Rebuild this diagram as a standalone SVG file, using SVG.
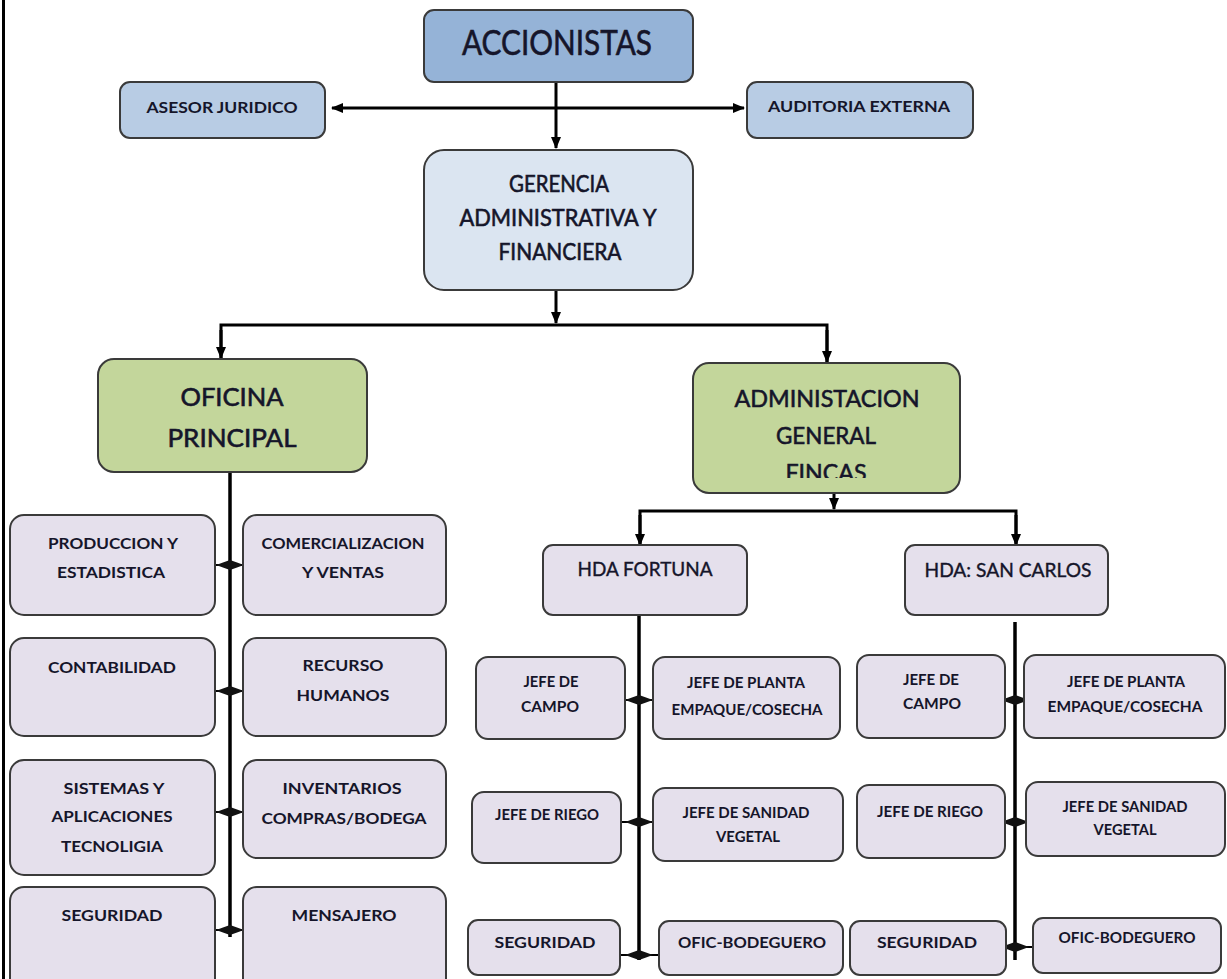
<svg xmlns="http://www.w3.org/2000/svg" width="1227" height="979" viewBox="0 0 1227 979">
<style>
.box{stroke:#3a3a3a;stroke-width:2}
.c1{fill:#95b3d7}.c2{fill:#b8cce4}.c3{fill:#dbe5f1}.c4{fill:#c3d69b}.c5{fill:#e5e0ec}
text{font-family:Lato,"Liberation Sans",sans-serif;fill:#15152a;text-anchor:middle}
.big,.mid,.lg,.ad,.hd{stroke:#15152a;stroke-width:0.6}
.big{font-size:34px}
.mid{font-size:23px}
.lg{font-size:25px}
.ad{font-size:24px}
.hd{font-size:20px;stroke-width:0.4}
.sm{font-size:16px;font-weight:bold}
.xs{font-size:15px;font-weight:bold}
.ln{stroke:#000;stroke-width:3;fill:none}
.tr{stroke:#000;stroke-width:3.5;fill:none}
.jn{stroke:#000;stroke-width:2;fill:none}
.dm{fill:#111}
</style>
<defs>
<marker id="ah" markerUnits="userSpaceOnUse" markerWidth="12" markerHeight="12" viewBox="0 0 12 12" refX="11" refY="6" orient="auto-start-reverse">
<path d="M0,1 L12,6 L0,11 Z" fill="#000"/>
</marker>
<clipPath id="finc"><rect x="693" y="363" width="267" height="115"/></clipPath>
</defs>
<rect width="1227" height="979" fill="#fff"/>
<line x1="3.5" y1="0" x2="3.5" y2="979" stroke="#000" stroke-width="3"/>

<g id="connectors">
<line class="ln" x1="332" y1="108" x2="744" y2="108" marker-start="url(#ah)" marker-end="url(#ah)"/>
<line class="ln" x1="556" y1="82" x2="556" y2="148" marker-end="url(#ah)"/>
<line class="ln" x1="556" y1="290" x2="556" y2="323" marker-end="url(#ah)"/>
<polyline class="ln" points="221,358 221,325 827,325 827,362"/>
<line class="ln" x1="221" y1="330" x2="221" y2="358" marker-end="url(#ah)"/>
<line class="ln" x1="827" y1="330" x2="827" y2="362" marker-end="url(#ah)"/>
<line class="ln" x1="834" y1="493" x2="834" y2="509" marker-end="url(#ah)"/>
<polyline class="ln" points="640,544 640,511 1016,511 1016,544"/>
<line class="ln" x1="640" y1="515" x2="640" y2="545" marker-end="url(#ah)"/>
<line class="ln" x1="1016" y1="515" x2="1016" y2="545" marker-end="url(#ah)"/>
<line class="tr" x1="230" y1="472" x2="230" y2="937"/>
<line class="tr" x1="639" y1="615" x2="639" y2="960"/>
<line class="tr" x1="1015" y1="622" x2="1015" y2="960"/>
<g id="junctions">
<line class="jn" x1="215" y1="565" x2="243" y2="565"/><polygon class="dm" points="216,565 230,560 244,565 230,570"/>
<line class="jn" x1="215" y1="691" x2="243" y2="691"/><polygon class="dm" points="216,691 230,686 244,691 230,696"/>
<line class="jn" x1="215" y1="812" x2="243" y2="812"/><polygon class="dm" points="216,812 230,807 244,812 230,817"/>
<line class="jn" x1="215" y1="930" x2="243" y2="930"/><polygon class="dm" points="216,930 230,925 244,930 230,935"/>
<line class="jn" x1="625" y1="700" x2="653" y2="700"/><polygon class="dm" points="625,700 639,695 653,700 639,705"/>
<line class="jn" x1="621" y1="822" x2="653" y2="822"/><polygon class="dm" points="625,822 639,817 653,822 639,827"/>
<line class="jn" x1="620" y1="955" x2="659" y2="955"/><polygon class="dm" points="625,955 639,950 653,955 639,960"/>
<line class="jn" x1="1005" y1="700" x2="1024" y2="700"/><polygon class="dm" points="1001,700 1015,695 1029,700 1015,705"/>
<line class="jn" x1="1005" y1="822" x2="1026" y2="822"/><polygon class="dm" points="1001,822 1015,817 1029,822 1015,827"/>
<line class="jn" x1="1006" y1="947" x2="1033" y2="947"/><polygon class="dm" points="1001,947 1015,942 1029,947 1015,952"/>
</g>
</g>

<g id="accionistas"><rect class="box c1" x="424" y="10" width="269" height="72" rx="10"/><text class="big" x="557" y="55" textLength="190" lengthAdjust="spacingAndGlyphs">ACCIONISTAS</text></g>
<g id="asesor"><rect class="box c2" x="120" y="82" width="205" height="56" rx="10"/><text class="sm" x="222" y="113" textLength="151" lengthAdjust="spacingAndGlyphs">ASESOR JURIDICO</text></g>
<g id="auditoria"><rect class="box c2" x="747" y="82" width="226" height="56" rx="10"/><text class="sm" x="859" y="112" textLength="182" lengthAdjust="spacingAndGlyphs">AUDITORIA EXTERNA</text></g>
<g id="gerencia"><rect class="box c3" x="424" y="150" width="269" height="140" rx="20"/>
<text class="mid" x="559" y="192" textLength="100" lengthAdjust="spacingAndGlyphs">GERENCIA</text>
<text class="mid" x="558" y="226" textLength="197" lengthAdjust="spacingAndGlyphs">ADMINISTRATIVA Y</text>
<text class="mid" x="560" y="260" textLength="123" lengthAdjust="spacingAndGlyphs">FINANCIERA</text></g>
<g id="oficina"><rect class="box c4" x="98" y="359" width="269" height="113" rx="16"/>
<text class="lg" x="232" y="406" textLength="103" lengthAdjust="spacingAndGlyphs">OFICINA</text>
<text class="lg" x="232" y="447" textLength="129" lengthAdjust="spacingAndGlyphs">PRINCIPAL</text></g>
<g id="admin"><rect class="box c4" x="693" y="363" width="267" height="130" rx="16"/>
<text class="ad" x="827" y="407" textLength="185" lengthAdjust="spacingAndGlyphs">ADMINISTACION</text>
<text class="ad" x="826" y="444" textLength="100" lengthAdjust="spacingAndGlyphs">GENERAL</text>
<text class="ad" x="826" y="481" textLength="81" lengthAdjust="spacingAndGlyphs" clip-path="url(#finc)">FINCAS</text></g>

<g id="produccion"><rect class="box c5" x="10" y="515" width="205" height="100" rx="14"/>
<text class="sm" x="113" y="549" textLength="130" lengthAdjust="spacingAndGlyphs">PRODUCCION Y</text>
<text class="sm" x="111" y="578" textLength="108" lengthAdjust="spacingAndGlyphs">ESTADISTICA</text></g>
<g id="comercializacion"><rect class="box c5" x="243" y="515" width="203" height="100" rx="14"/>
<text class="sm" x="343" y="549" textLength="163" lengthAdjust="spacingAndGlyphs">COMERCIALIZACION</text>
<text class="sm" x="343" y="578" textLength="82" lengthAdjust="spacingAndGlyphs">Y VENTAS</text></g>
<g id="contabilidad"><rect class="box c5" x="10" y="638" width="205" height="98" rx="14"/>
<text class="sm" x="112" y="673" textLength="128" lengthAdjust="spacingAndGlyphs">CONTABILIDAD</text></g>
<g id="recurso"><rect class="box c5" x="243" y="638" width="203" height="98" rx="14"/>
<text class="sm" x="343" y="671" textLength="81" lengthAdjust="spacingAndGlyphs">RECURSO</text>
<text class="sm" x="343" y="701" textLength="93" lengthAdjust="spacingAndGlyphs">HUMANOS</text></g>
<g id="sistemas"><rect class="box c5" x="10" y="760" width="205" height="115" rx="14"/>
<text class="sm" x="114" y="794" textLength="101" lengthAdjust="spacingAndGlyphs">SISTEMAS Y</text>
<text class="sm" x="112" y="822" textLength="121" lengthAdjust="spacingAndGlyphs">APLICACIONES</text>
<text class="sm" x="112" y="852" textLength="102" lengthAdjust="spacingAndGlyphs">TECNOLIGIA</text></g>
<g id="inventarios"><rect class="box c5" x="243" y="760" width="203" height="98" rx="14"/>
<text class="sm" x="342" y="794" textLength="119" lengthAdjust="spacingAndGlyphs">INVENTARIOS</text>
<text class="sm" x="344" y="824" textLength="165" lengthAdjust="spacingAndGlyphs">COMPRAS/BODEGA</text></g>
<g id="seguridad-op"><rect class="box c5" x="10" y="887" width="205" height="110" rx="14"/>
<text class="sm" x="112" y="921" textLength="101" lengthAdjust="spacingAndGlyphs">SEGURIDAD</text></g>
<g id="mensajero"><rect class="box c5" x="243" y="887" width="203" height="110" rx="14"/>
<text class="sm" x="344" y="921" textLength="105" lengthAdjust="spacingAndGlyphs">MENSAJERO</text></g>

<g id="hda-fortuna"><rect class="box c5" x="543" y="545" width="204" height="70" rx="10"/>
<text class="hd" x="645" y="576" textLength="135" lengthAdjust="spacingAndGlyphs">HDA FORTUNA</text></g>
<g id="f-campo"><rect class="box c5" x="476" y="657" width="149" height="82" rx="12"/>
<text class="xs" x="551" y="687" textLength="55" lengthAdjust="spacingAndGlyphs">JEFE DE</text>
<text class="xs" x="550" y="712" textLength="58" lengthAdjust="spacingAndGlyphs">CAMPO</text></g>
<g id="f-planta"><rect class="box c5" x="653" y="657" width="187" height="82" rx="12"/>
<text class="xs" x="746" y="688" textLength="118" lengthAdjust="spacingAndGlyphs">JEFE DE PLANTA</text>
<text class="xs" x="747" y="715" textLength="151" lengthAdjust="spacingAndGlyphs">EMPAQUE/COSECHA</text></g>
<g id="f-riego"><rect class="box c5" x="472" y="792" width="149" height="71" rx="12"/>
<text class="xs" x="547" y="820" textLength="104" lengthAdjust="spacingAndGlyphs">JEFE DE RIEGO</text></g>
<g id="f-sanidad"><rect class="box c5" x="653" y="788" width="190" height="73" rx="12"/>
<text class="xs" x="746" y="818" textLength="127" lengthAdjust="spacingAndGlyphs">JEFE DE SANIDAD</text>
<text class="xs" x="748" y="842" textLength="64" lengthAdjust="spacingAndGlyphs">VEGETAL</text></g>
<g id="f-seguridad"><rect class="box c5" x="468" y="920" width="152" height="55" rx="10"/>
<text class="xs" x="545" y="948" textLength="101" lengthAdjust="spacingAndGlyphs">SEGURIDAD</text></g>
<g id="f-bodeguero"><rect class="box c5" x="659" y="921" width="184" height="54" rx="10"/>
<text class="xs" x="752" y="948" textLength="148" lengthAdjust="spacingAndGlyphs">OFIC-BODEGUERO</text></g>

<g id="hda-sancarlos"><rect class="box c5" x="905" y="545" width="203" height="70" rx="10"/>
<text class="hd" x="1008" y="577" textLength="167" lengthAdjust="spacingAndGlyphs">HDA: SAN CARLOS</text></g>
<g id="s-campo"><rect class="box c5" x="857" y="655" width="148" height="83" rx="12"/>
<text class="xs" x="931" y="685" textLength="56" lengthAdjust="spacingAndGlyphs">JEFE DE</text>
<text class="xs" x="932" y="709" textLength="58" lengthAdjust="spacingAndGlyphs">CAMPO</text></g>
<g id="s-planta"><rect class="box c5" x="1024" y="655" width="201" height="83" rx="12"/>
<text class="xs" x="1126" y="687" textLength="118" lengthAdjust="spacingAndGlyphs">JEFE DE PLANTA</text>
<text class="xs" x="1125" y="712" textLength="155" lengthAdjust="spacingAndGlyphs">EMPAQUE/COSECHA</text></g>
<g id="s-riego"><rect class="box c5" x="857" y="785" width="148" height="73" rx="12"/>
<text class="xs" x="930" y="817" textLength="106" lengthAdjust="spacingAndGlyphs">JEFE DE RIEGO</text></g>
<g id="s-sanidad"><rect class="box c5" x="1026" y="782" width="199" height="74" rx="12"/>
<text class="xs" x="1125" y="812" textLength="125" lengthAdjust="spacingAndGlyphs">JEFE DE SANIDAD</text>
<text class="xs" x="1125" y="835" textLength="63" lengthAdjust="spacingAndGlyphs">VEGETAL</text></g>
<g id="s-seguridad"><rect class="box c5" x="850" y="921" width="156" height="54" rx="10"/>
<text class="xs" x="927" y="948" textLength="100" lengthAdjust="spacingAndGlyphs">SEGURIDAD</text></g>
<g id="s-bodeguero"><rect class="box c5" x="1033" y="918" width="188" height="55" rx="10"/>
<text class="xs" x="1127" y="943" textLength="137" lengthAdjust="spacingAndGlyphs">OFIC-BODEGUERO</text></g>
</svg>
